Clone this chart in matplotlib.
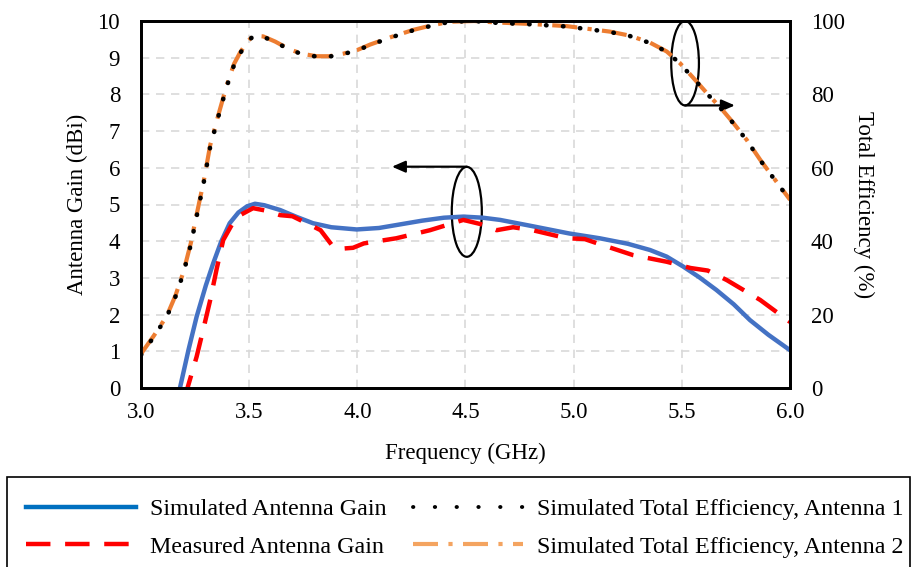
import matplotlib
matplotlib.use("Agg")
import matplotlib.pyplot as plt
from matplotlib.patches import Ellipse, Rectangle
from matplotlib.lines import Line2D

plt.rcParams['font.family'] = ['Liberation Serif', 'DejaVu Serif']

# Simulated antenna gain (dBi)
f_sim = [3.18, 3.22, 3.257, 3.30, 3.334, 3.37, 3.41, 3.45, 3.49, 3.527, 3.57, 3.643,
         3.72, 3.795, 3.88, 3.997, 4.10, 4.18, 4.30, 4.40, 4.49, 4.58, 4.66, 4.80,
         4.98, 5.12, 5.25, 5.353, 5.43, 5.506, 5.58, 5.66, 5.74, 5.815, 5.90, 6.0]
g_sim = [0.0, 1.05, 1.94, 2.80, 3.40, 3.98, 4.49, 4.78, 4.95, 5.02, 4.98, 4.85,
         4.66, 4.49, 4.38, 4.32, 4.36, 4.44, 4.56, 4.64, 4.67, 4.64, 4.58, 4.42,
         4.21, 4.08, 3.93, 3.76, 3.58, 3.31, 3.02, 2.67, 2.28, 1.85, 1.45, 1.03]

# Measured antenna gain (dBi)
f_meas = [3.20, 3.257, 3.29, 3.32, 3.35, 3.38, 3.42, 3.458, 3.518, 3.58, 3.643, 3.70,
          3.766, 3.83, 3.888, 3.935, 3.98, 4.03, 4.18, 4.336, 4.49, 4.567, 4.644, 4.72,
          4.81, 4.968, 5.05, 5.12, 5.275, 5.43, 5.54, 5.62, 5.708, 5.862, 6.0]
g_meas = [-0.3, 0.85, 1.65, 2.40, 3.25, 4.03, 4.45, 4.71, 4.90, 4.83, 4.71, 4.68,
          4.49, 4.30, 3.85, 3.80, 3.82, 3.94, 4.08, 4.30, 4.58, 4.47, 4.30, 4.38,
          4.30, 4.08, 4.06, 3.92, 3.62, 3.44, 3.27, 3.20, 2.94, 2.40, 1.80]

# Simulated total efficiency (%)
f_eff = [3.0, 3.06, 3.119, 3.16, 3.196, 3.23, 3.257, 3.29, 3.32, 3.36, 3.396, 3.43,
         3.458, 3.49, 3.518, 3.565, 3.62, 3.689, 3.75, 3.812, 3.87, 3.935, 4.0, 4.06,
         4.16, 4.26, 4.35, 4.43, 4.54, 4.644, 4.80, 4.968, 5.168, 5.26, 5.353, 5.43,
         5.49, 5.55, 5.615, 5.68, 5.737, 5.80, 5.862, 5.93, 6.0]
eff1 = [9.0, 14.0, 19.4, 25.0, 31.3, 39.0, 46.7, 56.0, 65.8, 74.5, 82.1, 88.0,
        91.2, 94.0, 95.9, 95.7, 94.3, 92.1, 90.9, 90.3, 90.3, 91.0, 92.0, 93.5,
        95.6, 97.5, 98.8, 99.8, 100.0, 99.5, 99.1, 98.5, 97.0, 95.9, 94.0, 91.6,
        88.5, 84.6, 80.3, 76.2, 72.2, 67.5, 62.1, 56.7, 51.2]
eff2 = [9.3, 14.3, 19.6, 25.3, 31.6, 39.4, 47.2, 56.4, 66.2, 74.9, 82.4, 88.3,
        91.4, 94.2, 96.0, 95.8, 94.4, 92.2, 91.0, 90.4, 90.4, 91.1, 92.1, 93.6,
        95.7, 97.6, 98.9, 99.8, 100.0, 99.6, 99.2, 98.6, 97.1, 96.0, 94.1, 91.7,
        88.6, 84.7, 80.4, 76.3, 72.3, 67.6, 62.2, 56.8, 51.3]

x_ticks = [3.0, 3.5, 4.0, 4.5, 5.0, 5.5, 6.0]
gain_ticks = list(range(0, 11))
eff_ticks = [0, 20, 40, 60, 80, 100]

labels = ["Simulated Antenna Gain", "Measured Antenna Gain",
          "Simulated Total Efficiency, Antenna 1", "Simulated Total Efficiency, Antenna 2"]

BLUE = "#4472C4"
RED = "#FF0000"
ORANGE = "#ED7D31"
FS = 16.5
LFS = 17.3

fig = plt.figure(figsize=(9.18, 5.67), dpi=100)
ax = fig.add_axes([141/918, 1-388/567, (790-141)/918, (388-21)/567])
ax2 = ax.twinx()

ax.set_xlim(3.0, 6.0)
ax.set_ylim(0, 10)
ax2.set_ylim(0, 100)

ax.grid(True, color="#D9D9D9", linestyle=(0, (5, 4)), linewidth=1.2)
ax.set_axisbelow(True)

l1, = ax.plot(f_sim, g_sim, color=BLUE, lw=3.2, solid_capstyle='butt')
l2, = ax.plot(f_meas, g_meas, color=RED, lw=3.2, linestyle=(0, (5.5, 3.3)))
l3, = ax2.plot(f_eff, eff1, color="black", lw=3.3, linestyle=(0, (0.1, 3.6)),
               dash_capstyle='round')
l4, = ax2.plot(f_eff, eff2, color=ORANGE, lw=3.0, linestyle=(0, (6, 2.5, 1, 2.5)))
l3.set_zorder(3)

ax.set_xticks(x_ticks)
ax.set_xticklabels([f"{v:.1f}" for v in x_ticks])
ax.set_yticks(gain_ticks)
ax2.set_yticks(eff_ticks)
for a in (ax, ax2):
    a.tick_params(length=0, labelsize=FS, pad=15)
    for s in a.spines.values():
        s.set_linewidth(2)
        s.set_color("black")
ax.tick_params(axis='x', pad=10)

ax.set_xlabel("Frequency (GHz)", fontsize=FS, labelpad=14)
ax.set_ylabel("Antenna Gain (dBi)", fontsize=FS, labelpad=7)
ax2.set_ylabel("Total Efficiency (%)", fontsize=FS, rotation=270, labelpad=21)

# annotations: ellipses and arrows
e1 = Ellipse((4.506, 4.80), 0.139, 2.45, fill=False, edgecolor="black", lw=1.6)
ax.add_patch(e1)
ax.annotate("", xy=(4.16, 6.03), xytext=(4.506, 6.03),
            arrowprops=dict(arrowstyle="-|>,head_length=0.8,head_width=0.35",
                            color="black", lw=1.6, shrinkA=0, shrinkB=0))
e2 = Ellipse((5.515, 8.85), 0.128, 2.30, fill=False, edgecolor="black", lw=1.6)
ax.add_patch(e2)
ax.annotate("", xy=(5.745, 7.70), xytext=(5.515, 7.70),
            arrowprops=dict(arrowstyle="-|>,head_length=0.8,head_width=0.35",
                            color="black", lw=1.6, shrinkA=0, shrinkB=0))

# legend box
fig.patches.append(Rectangle((7/918, -0.05), (910-7)/918, 0.05 + (567-477)/567,
                             transform=fig.transFigure, fill=False,
                             edgecolor="black", lw=1.2))
h1 = Line2D([], [], color="#0070C0", lw=3.2)
h2 = Line2D([], [], color=RED, lw=3.2, linestyle=(0, (5.5, 3.3)))
h3 = Line2D([], [], color="black", lw=2.8, linestyle=(0, (0.1, 5.5)), dash_capstyle='round')
h4 = Line2D([], [], color="#F4A460", lw=3.0, linestyle=(0, (6, 2.5, 1, 2.5)))
fig.legend([h1, h2, h3, h4], labels, ncol=2, frameon=False, fontsize=LFS,
           loc="center left", bbox_to_anchor=(4/918, 1-528/567),
           handlelength=4.58, handletextpad=0.58, columnspacing=1.1, labelspacing=0.66)

fig.savefig("out.png", dpi=100)
